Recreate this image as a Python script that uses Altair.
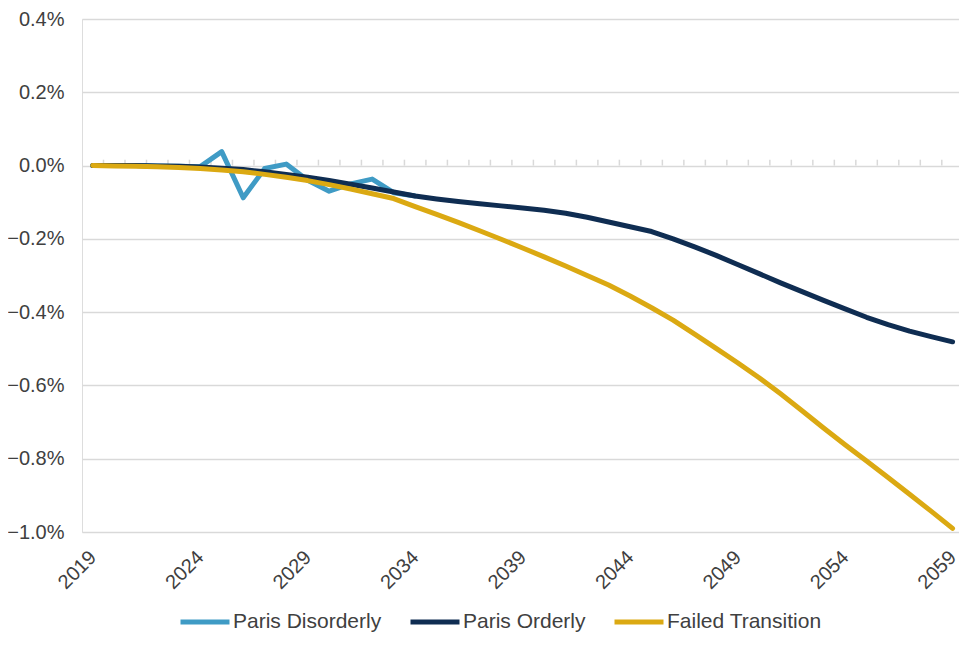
import altair as alt
import pandas as pd

# ---- data (values in percent) ----
years = list(range(2019, 2060))

disorderly_years = list(range(2019, 2035))
paris_disorderly = [0.000, 0.000, 0.000, -0.001, -0.002, -0.003, 0.038, -0.088,
                    -0.008, 0.004, -0.040, -0.070, -0.050, -0.037, -0.074, -0.083]

paris_orderly = [0.000, 0.000, 0.000, -0.001, -0.002, -0.004, -0.007, -0.011,
                 -0.017, -0.024, -0.032, -0.041, -0.051, -0.061, -0.072, -0.083,
                 -0.091, -0.098, -0.104, -0.110, -0.116, -0.122, -0.130, -0.141,
                 -0.154, -0.167, -0.180, -0.200, -0.222, -0.245, -0.270, -0.295,
                 -0.320, -0.344, -0.368, -0.391, -0.414, -0.434, -0.452, -0.467,
                 -0.481]

failed_transition = [0.000, -0.001, -0.002, -0.003, -0.005, -0.008, -0.012, -0.017,
                     -0.024, -0.032, -0.041, -0.052, -0.064, -0.077, -0.090, -0.112,
                     -0.133, -0.155, -0.178, -0.201, -0.225, -0.249, -0.274, -0.300,
                     -0.326, -0.356, -0.388, -0.422, -0.460, -0.499, -0.538, -0.579,
                     -0.623, -0.669, -0.716, -0.762, -0.806, -0.851, -0.897, -0.943,
                     -0.990]

series_names = ["Paris Disorderly", "Paris Orderly", "Failed Transition"]
series_colors = ["#3f9bc5", "#0f2d52", "#dba912"]

y_ticks = [-1.0, -0.8, -0.6, -0.4, -0.2, 0.0, 0.2, 0.4]
x_label_years = [2019, 2024, 2029, 2034, 2039, 2044, 2049, 2054, 2059]
zero_tick_positions = [y - 0.5 for y in years]

# ---- tables ----
df_dis = pd.DataFrame({"year": disorderly_years, "value": paris_disorderly,
                       "series": series_names[0]})
df_ord = pd.DataFrame({"year": years, "value": paris_orderly, "series": series_names[1]})
df_fail = pd.DataFrame({"year": years, "value": failed_transition, "series": series_names[2]})
df_ticks = pd.DataFrame({"year": zero_tick_positions, "value": 0.0, "value_top": 0.016})

FONT = "Liberation Sans"
TXT = "#404040"

x_scale = alt.Scale(domain=[2018.5, 2059.3], nice=False, zero=False)
y_scale = alt.Scale(domain=[-1.0, 0.4], nice=False, zero=False)

x_axis = alt.Axis(values=x_label_years, format="d", labelAngle=-45,
                  labelAlign="right", labelBaseline="middle",
                  labelPadding=22, domain=False, ticks=False, grid=False,
                  labelFontSize=20, labelColor=TXT, labelFont=FONT,
                  labelFlush=False, labelOverlap=False, title=None)
y_axis = alt.Axis(values=y_ticks,
                  labelExpr="format(datum.value, '.1f') + '%'",
                  domain=False, ticks=False, gridColor="#d9d9d9",
                  gridWidth=1.5, labelPadding=18, labelFontSize=20,
                  labelColor=TXT, labelFont=FONT, title=None)

x_enc = alt.X("year:Q", scale=x_scale, axis=x_axis)
y_enc = alt.Y("value:Q", scale=y_scale, axis=y_axis)
color_enc = alt.Color("series:N",
                      scale=alt.Scale(domain=series_names, range=series_colors),
                      legend=alt.Legend(orient="none", legendX=96, legendY=576,
                                        direction="horizontal", columns=3,
                                        title=None, symbolType="stroke",
                                        symbolSize=2401, symbolStrokeWidth=5,
                                        labelFontSize=21, labelColor=TXT,
                                        labelFont=FONT, labelOffset=1,
                                        columnPadding=18, padding=0))

ticks = alt.Chart(df_ticks).mark_rule(color="#d9d9d9", strokeWidth=1.5,
                                      clip=True).encode(
    x=x_enc,
    y=y_enc,
    y2="value_top:Q",
)

def line(df):
    return alt.Chart(df).mark_line(strokeWidth=5, strokeJoin="round",
                                   strokeCap="round").encode(
        x=x_enc, y=y_enc, color=color_enc)

chart = alt.layer(ticks, line(df_dis), line(df_ord), line(df_fail)).properties(
    width=877, height=513,
    autosize=alt.AutoSizeParams(type="none"),
    padding={"left": 74, "top": 11, "right": 0, "bottom": 100},
).configure_view(stroke="transparent").configure(background="white")

chart.save("out.html", embed_options={"renderer": "svg", "actions": False})
